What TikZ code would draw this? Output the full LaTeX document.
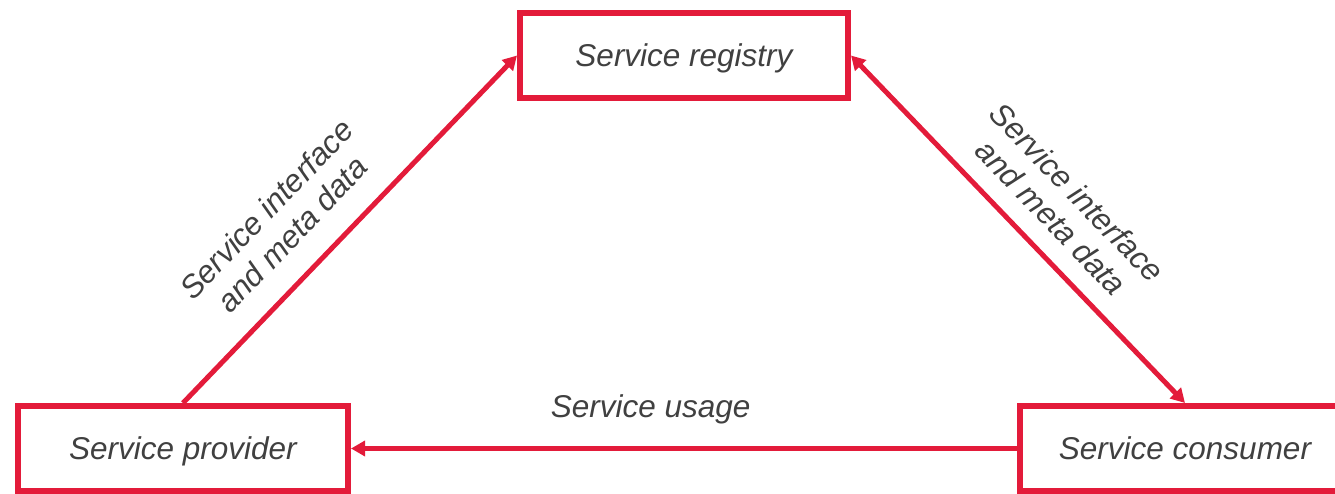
\documentclass[tikz,border=0pt]{standalone}
\usepackage{fontspec}
\setmainfont{Liberation Sans}
\usetikzlibrary{arrows.meta, positioning}
\definecolor{regred}{RGB}{227,27,58}
\definecolor{txtgray}{RGB}{64,64,64}

\begin{document}
\begin{tikzpicture}[x=1pt,y=-1pt,>={Triangle[length=14pt,width=15pt]},
	every node/.style={font=\fontsize{31.5}{36}\selectfont\itshape,text=txtgray},
	role/.style={draw=regred,line width=6pt,inner sep=0pt,text depth=0pt,minimum width=330pt,minimum height=85pt},
	flow/.style={draw=regred,line width=5pt}]
	\useasboundingbox (0,0) rectangle (1335,494);
	\node[role,minimum width=328pt] (reg) at (684,55.5) {Service registry};
	\node[role] (prov) at (183,448.5) {Service provider};
	\node[role] (cons) at (1185,448.5) {Service consumer};
	
	\path[flow,->] (prov.north) -- node[pos=0.41,sloped,above=21pt,align=center]{Service interface\\and meta data} (reg.west);
	\path[flow,<->] (reg.east) -- node[pos=0.53,sloped,above=15pt,align=center]{Service interface\\and meta data} (cons.north);
	\path[flow,->] (cons.west) -- node[pos=0.55,above=19pt]{Service usage} (prov.east);
	
\end{tikzpicture}
\end{document}
